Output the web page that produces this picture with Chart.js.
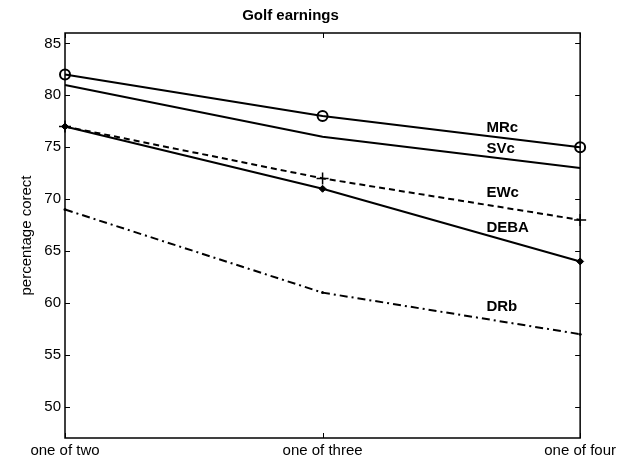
<!DOCTYPE html>
<html>
<head>
<meta charset="utf-8">
<script src="https://cdn.jsdelivr.net/npm/chart.js@4"></script>
<style>
  html, body { margin: 0; padding: 0; background: #fff; }
  #wrap { width: 620px; height: 462px; }
</style>
</head>
<body>
<div id="wrap"><canvas id="golf"></canvas></div>
<script>
const categories = ["one of two", "one of three", "one of four"];
const mrc = [82, 78, 75];
const svc = [81, 76, 73];
const ewc = [77, 72, 68];
const deba = [77, 71, 64];
const drb = [69, 61, 57];
const yTicks = [50, 55, 60, 65, 70, 75, 80, 85];

// text labels next to the lines (x in category index, y in data units)
const lineLabels = [
  { text: "MRc", x: 1.636, y: 76.9 },
  { text: "SVc", x: 1.636, y: 74.8 },
  { text: "EWc", x: 1.636, y: 70.6 },
  { text: "DEBA", x: 1.636, y: 67.2 },
  { text: "DRb", x: 1.636, y: 59.6 },
];

const FONT = "'Liberation Sans', Arial, sans-serif";

const matlabAxes = {
  id: "matlabAxes",
  beforeDatasetsDraw(chart) {
    const { ctx, chartArea: a, scales } = chart;
    ctx.save();
    ctx.strokeStyle = "#000";
    ctx.lineWidth = 1;
    ctx.beginPath();
    yTicks.forEach((v) => {
      const y = Math.round(scales.y.getPixelForValue(v)) + 0.5;
      ctx.moveTo(a.left, y);
      ctx.lineTo(a.left + 5, y);
      ctx.moveTo(a.right, y);
      ctx.lineTo(a.right - 5, y);
    });
    categories.forEach((c, i) => {
      const x = Math.round(scales.x.getPixelForValue(i)) + 0.5;
      ctx.moveTo(x, a.top);
      ctx.lineTo(x, a.top + 5);
      ctx.moveTo(x, a.bottom);
      ctx.lineTo(x, a.bottom - 5);
    });
    ctx.stroke();
    ctx.lineWidth = 1.5;
    ctx.strokeRect(a.left, a.top, a.right - a.left, a.bottom - a.top);
    ctx.restore();
  },
  afterDatasetsDraw(chart) {
    const { ctx, scales } = chart;
    ctx.save();
    ctx.fillStyle = "#000";
    ctx.font = "bold 15px " + FONT;
    ctx.textAlign = "left";
    ctx.textBaseline = "middle";
    lineLabels.forEach((l) => {
      ctx.fillText(l.text, scales.x.getPixelForValue(l.x), scales.y.getPixelForValue(l.y));
    });
    ctx.restore();
  },
};

const base = {
  borderColor: "#000",
  backgroundColor: "rgba(0,0,0,0)",
  pointBorderColor: "#000",
  tension: 0,
  clip: false,
};

new Chart(document.getElementById("golf"), {
  type: "line",
  data: {
    labels: categories,
    datasets: [
      { ...base, label: "MRc", data: mrc, borderWidth: 2,
        pointStyle: "circle", pointRadius: 5, pointBorderWidth: 2,
        pointBackgroundColor: "rgba(0,0,0,0)" },
      { ...base, label: "SVc", data: svc, borderWidth: 2, pointRadius: 0 },
      { ...base, label: "EWc", data: ewc, borderWidth: 2, borderDash: [6, 4],
        pointStyle: "cross", pointRadius: 6, pointBorderWidth: 1.5 },
      { ...base, label: "DEBA", data: deba, borderWidth: 2,
        pointStyle: "rectRot", pointRadius: 3.5, pointBorderWidth: 1,
        pointBackgroundColor: "#000" },
      { ...base, label: "DRb", data: drb, borderWidth: 2, borderDash: [8, 4, 2, 4],
        pointStyle: "circle", pointRadius: 1.5, pointBorderWidth: 0,
        pointBackgroundColor: "#000" },
    ],
  },
  options: {
    responsive: true,
    maintainAspectRatio: false,
    animation: false,
    layout: { padding: { left: 0, right: 39, top: 0, bottom: 0 } },
    plugins: {
      legend: { display: false },
      tooltip: { enabled: false },
      title: {
        display: true,
        text: "Golf earnings",
        color: "#000",
        font: { family: FONT, size: 15, weight: "bold" },
        padding: { top: 7, bottom: 8 },
      },
    },
    scales: {
      x: {
        type: "category",
        offset: false,
        grid: { display: false, drawTicks: false },
        border: { display: false },
        ticks: {
          color: "#000",
          font: { family: FONT, size: 15 },
          padding: 4,
          maxRotation: 0,
          autoSkip: false,
        },
        afterFit: (s) => { s.height = 24; },
      },
      y: {
        min: 47,
        max: 86,
        grid: { display: false, drawTicks: false },
        border: { display: false },
        ticks: {
          stepSize: 5,
          color: "#000",
          font: { family: FONT, size: 15 },
          padding: 4,
        },
        afterBuildTicks: (s) => {
          s.ticks = yTicks.map((v) => ({ value: v }));
        },
        title: {
          display: true,
          text: "percentage corect",
          color: "#000",
          font: { family: FONT, size: 15 },
          padding: { top: 18, bottom: 0 },
        },
        afterFit: (s) => { s.width = 65; },
      },
    },
  },
  plugins: [matlabAxes],
});
</script>
</body>
</html>
